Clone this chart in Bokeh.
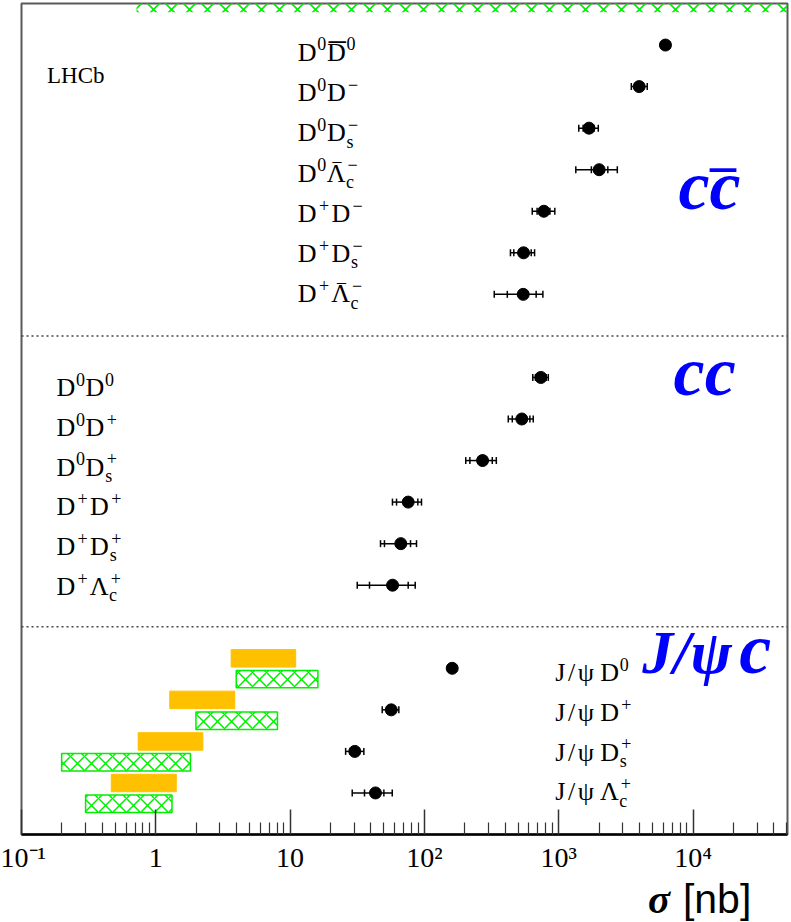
import numpy as np
from bokeh.plotting import figure
from bokeh.layouts import column
from bokeh.models import Range1d, ColumnDataSource, Span, FixedTicker
from bokeh.core.properties import value
from bokeh.embed import file_html
from bokeh.resources import INLINE

# ---------------- data ----------------
ccbar_labels = ["D^{0}\\bar{D}^{0}", "D^{0}D^{−}", "D^{0}D_{s}^{−}", "D^{0}\\bar{Λ}_{c}^{−}",
                "D^{+}D^{−}", "D^{+}D_{s}^{−}", "D^{+}\\bar{Λ}_{c}^{−}"]
ccbar_sigma = [6230, 3970, 1680, 2000, 775, 547, 544]
ccbar_tot_lo = [5750, 3470, 1410, 1340, 635, 437, 331]
ccbar_tot_hi = [6750, 4560, 1970, 2730, 935, 661, 762]
ccbar_stat_lo = [5950, 3700, 1520, 1750, 690, 463, 414]
ccbar_stat_hi = [6520, 4270, 1830, 2320, 860, 624, 679]

cc_labels = ["D^{0}D^{0}", "D^{0}D^{+}", "D^{0}D_{s}^{+}", "D^{+}D^{+}", "D^{+}D_{s}^{+}", "D^{+}Λ_{c}^{+}"]
cc_sigma = [736, 531, 271, 75.7, 66.7, 57.9]
cc_tot_lo = [641, 421, 203, 57.8, 47.1, 31.6]
cc_tot_hi = [836, 646, 343, 95.1, 87.3, 85.4]
cc_stat_lo = [672, 451, 218, 62.0, 50.4, 39.0]
cc_stat_hi = [807, 610, 320, 89.3, 78.8, 75.7]

jpsi_labels = ["J/ψ D^{0}", "J/ψ D^{+}", "J/ψ D_{s}^{+}", "J/ψ Λ_{c}^{+}"]
jpsi_sigma = [161, 56.6, 30.3, 43.2]
jpsi_tot_lo = [150, 48.5, 25.9, 29.0]
jpsi_tot_hi = [173, 64.5, 35.4, 57.6]
jpsi_stat_lo = [157, 52.5, 28.0, 35.8]
jpsi_stat_hi = [165, 60.5, 32.8, 49.9]
# theory predictions (orange solid / green hatched)
theoryA_lo = [3.64, 1.27, 0.739, 0.466]
theoryA_hi = [11.0, 3.87, 2.24, 1.42]
theoryB_lo = [3.97, 1.99, 0.199, 0.300]
theoryB_hi = [16.1, 8.05, 1.81, 1.32]

tick_values = [0.1, 1, 10, 100, 1000, 10000]
tick_labels = ["10⁻¹", "1", "10", "10²", "10³", "10⁴"]

# ---------------- layout helpers ----------------
X_MIN, X_MAX = 0.1, 5.05e4
Y_TOP, Y_BOT = -1.0, 19.0
FRAME_TOP, PX_PER_ROW = 3.3, 41.67
MID = 0.3375  # middle-of-box above alphabetic baseline (em)
MAIN_H, FOOT_H = 875, 47


def px_to_row(py):
    return (py - FRAME_TOP) / PX_PER_ROW - 1.0


rows_ccbar = list(range(0, len(ccbar_labels)))
sep1 = rows_ccbar[-1] + 1
rows_cc = list(range(sep1 + 1, sep1 + 1 + len(cc_labels)))
sep2 = rows_cc[-1] + 1
rows_jpsi = list(range(sep2 + 1, sep2 + 1 + len(jpsi_labels)))

p = figure(width=791, height=MAIN_H, x_axis_type="log",
           x_range=Range1d(X_MIN, X_MAX), y_range=Range1d(Y_BOT, Y_TOP),
           output_backend="svg", toolbar_location=None, y_axis_location=None,
           min_border_left=21, min_border_right=4, min_border_top=3, min_border_bottom=38)
p.grid.visible = False
p.outline_line_color = "#5a5a5a"
p.outline_line_width = 2
p.background_fill_color = "white"
p.border_fill_color = "white"

ax = p.xaxis[0]
minor = [m * 10.0 ** e for e in range(-1, 5) for m in range(2, 10) if m * 10.0 ** e < X_MAX]
ax.ticker = FixedTicker(ticks=tick_values, minor_ticks=minor)
ax.major_label_overrides = {v: l for v, l in zip(tick_values, tick_labels)}
ax.major_tick_in = 25
ax.major_tick_out = 0
ax.minor_tick_in = 12
ax.minor_tick_out = 0
ax.major_tick_line_color = "#333333"
ax.minor_tick_line_color = "#333333"
ax.major_tick_line_width = 1.5
ax.minor_tick_line_width = 1.2
ax.axis_line_color = "black"
ax.axis_line_width = 2.5
ax.major_label_text_font = "Liberation Serif"
ax.major_label_text_font_size = "28px"
ax.major_label_text_color = "black"
ax.major_label_standoff = 7

# top hatched band (legend box cut by the frame)
p.quad(left=[0.718], right=[X_MAX], top=[-1.2], bottom=[px_to_row(12)],
       fill_color=None, line_color=None, hatch_pattern="diagonal_cross",
       hatch_color="#00ee00", hatch_scale=18, hatch_weight=1.6)

# separators
for s in (sep1, sep2):
    p.add_layout(Span(location=s, dimension="width", line_dash="2 3",
                      line_color="#444444", line_width=1.5))

# theory boxes
p.quad(left=theoryA_lo, right=theoryA_hi, top=[r - 0.45 for r in rows_jpsi],
       bottom=[r - 0.03 for r in rows_jpsi], fill_color="#FFC000", line_color="#FFC000")
p.quad(left=theoryB_lo, right=theoryB_hi, top=[r + 0.05 for r in rows_jpsi],
       bottom=[r + 0.47 for r in rows_jpsi], fill_color=None, line_color="#00ee00",
       line_width=1.5, hatch_pattern="diagonal_cross", hatch_color="#00ee00",
       hatch_scale=14, hatch_weight=1.5)

# measurements
all_sigma = ccbar_sigma + cc_sigma + jpsi_sigma
all_rows = rows_ccbar + rows_cc + rows_jpsi
all_tlo = ccbar_tot_lo + cc_tot_lo + jpsi_tot_lo
all_thi = ccbar_tot_hi + cc_tot_hi + jpsi_tot_hi
all_slo = ccbar_stat_lo + cc_stat_lo + jpsi_stat_lo
all_shi = ccbar_stat_hi + cc_stat_hi + jpsi_stat_hi

p.segment(x0=all_tlo, y0=all_rows, x1=all_thi, y1=all_rows, line_color="black", line_width=1.5)
p.scatter(x=all_tlo + all_thi + all_slo + all_shi, y=all_rows * 4, marker="dash",
          angle=np.pi / 2, size=7, line_color="black", line_width=1.5)
p.scatter(x=all_sigma, y=all_rows, size=12, color="black")

# ---------------- particle labels (composed sub/superscripts) ----------------
BASE_FS, SCR_FS = 26, 18
ADV_BASE = {"D": .74, "Λ": .72, "J": .45, "/": .42, "ψ": .68, " ": .2}
ADV_SCR = {"0": .55, "+": .8, "−": .8, "s": .45, "c": .5}
SUP_RAISE, SUB_DROP = 11, 6


def parse(s):
    toks, i = [], 0
    while i < len(s):
        if s.startswith("\\bar{", i):
            toks.append(["bar", s[i + 5], None, None]); i += 7
        elif s[i] == "^":
            toks[-1][2] = s[i + 2]; i += 4
        elif s[i] == "_":
            toks[-1][3] = s[i + 2]; i += 4
        else:
            toks.append(["b", s[i], None, None]); i += 1
    return toks


pieces = dict(x=[], y=[], text=[], xo=[], yo=[], fs=[])


def add(x, y, t, xo, yo, fs):
    pieces["x"].append(x); pieces["y"].append(y); pieces["text"].append(t)
    pieces["xo"].append(xo); pieces["yo"].append(yo); pieces["fs"].append(f"{fs}px")


def layout(label, x, y):
    off = 0.0
    for kind, ch, sup, sub in parse(label):
        w = ADV_BASE[ch] * BASE_FS
        if ch != " ":
            add(x, y, ch, off + w / 2, -MID * BASE_FS, BASE_FS)
        if kind == "bar":
            bfs = 34 if ch == "D" else 18
            add(x, y, "_", off + w / 2 + 1, -19 - (MID + 0.1) * bfs, bfs)
        off += w
        if sup or sub:
            if sup:
                add(x, y, sup, off + ADV_SCR[sup] * SCR_FS / 2, -SUP_RAISE - MID * SCR_FS, SCR_FS)
            if sub:
                add(x, y, sub, off + ADV_SCR[sub] * SCR_FS / 2, SUB_DROP - MID * SCR_FS, SCR_FS)
            off += max(ADV_SCR[sup] if sup else 0, ADV_SCR[sub] if sub else 0) * SCR_FS


label_x = {"ccbar": 11.36, "cc": 0.1813, "jpsi": 930}
for i, lab in enumerate(ccbar_labels):
    layout(lab, label_x["ccbar"], px_to_row(61 + 40.4 * i))
for i, lab in enumerate(cc_labels):
    layout(lab, label_x["cc"], px_to_row(397.3 + 39.9 * i))
for i, lab in enumerate(jpsi_labels):
    layout(lab, label_x["jpsi"], px_to_row(683.3 + 39.8 * i))

p.text(x="x", y="y", text="text", x_offset="xo", y_offset="yo", text_font_size="fs",
       text_font=value("Liberation Serif"), text_align="center", text_baseline="middle",
       text_color="black", source=ColumnDataSource(pieces))

p.text(x=[0.155], y=[px_to_row(83.5)], y_offset=[-MID * 23], text=["LHCb"],
       text_font=value("Liberation Serif"), text_font_size="23px",
       text_baseline="middle", text_color="black")

# ---------------- blue group titles ----------------
BLUE = "#0000ff"
blue = dict(x=[7800, 7800, 7160, 4187, 4187],
            y=[px_to_row(210)] * 2 + [px_to_row(396)] + [px_to_row(675)] * 2,
            text=["cc", "_", "cc", "J/ψ", "c"],
            xo=[0, 35, 0, 0, 97],
            yo=[-MID * 70, -39.3 - (MID + 0.1) * 52, -MID * 70, -MID * 62, -MID * 72],
            fs=["70px", "52px", "70px", "62px", "72px"])
p.text(x="x", y="y", text="text", x_offset="xo", y_offset="yo", text_font_size="fs",
       text_font=value("Liberation Serif"), text_font_style="bold italic",
       text_baseline="middle", text_color=BLUE, source=ColumnDataSource(blue))

# ---------------- axis title strip (below the axis) ----------------
foot = figure(width=791, height=FOOT_H, x_range=Range1d(0, 791), y_range=Range1d(FOOT_H, 0),
              output_backend="svg", toolbar_location=None, x_axis_location=None,
              y_axis_location=None, min_border=0)
foot.grid.visible = False
foot.outline_line_color = None
foot.background_fill_color = "white"
foot.border_fill_color = "white"
foot.text(x=[647], y=[FOOT_H / 2], text=["σ"],
          text_font=value("Liberation Serif"), text_font_style="bold italic",
          text_font_size="41px", text_baseline="middle", text_color="black")
foot.text(x=[683], y=[FOOT_H / 2], text=["[nb]"],
          text_font=value("Liberation Sans"), text_font_size="41px", text_baseline="middle",
          text_color="black")

open("out.html", "w").write(file_html(column(p, foot, spacing=0), INLINE))
